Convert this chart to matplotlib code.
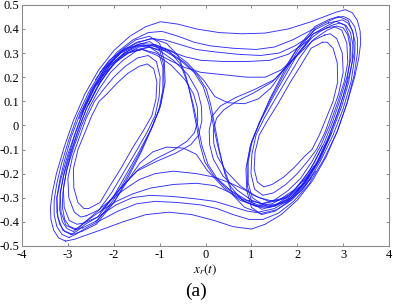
import matplotlib
matplotlib.use("Agg")
import matplotlib.pyplot as plt
import numpy as np

plt.rcParams["font.family"] = ["Liberation Serif", "DejaVu Serif"]
plt.rcParams["mathtext.fontset"] = "stix"
plt.rcParams["axes.unicode_minus"] = False

# trajectory pieces, (x_r, y) pairs
left_ring1 = [(-2.55, -0.345), (-2.30, -0.32), (-2.08, -0.25), (-1.85, -0.18), (-1.58, -0.09),
              (-1.35, -0.02), (-1.17, 0.04), (-1.08, 0.11), (-1.06, 0.18), (-1.13, 0.235),
              (-1.27, 0.255), (-1.45, 0.245), (-1.70, 0.215), (-1.93, 0.175), (-2.15, 0.13),
              (-2.32, 0.10), (-2.48, 0.04), (-2.63, -0.03), (-2.78, -0.10), (-2.88, -0.18),
              (-2.87, -0.26), (-2.78, -0.32), (-2.65, -0.345), (-2.55, -0.345)]
left_ring2 = [(-2.60, -0.375), (-2.32, -0.35), (-2.05, -0.28), (-1.80, -0.20), (-1.52, -0.11),
              (-1.28, -0.03), (-1.10, 0.04), (-1.01, 0.12), (-0.99, 0.20), (-1.07, 0.265),
              (-1.25, 0.29), (-1.48, 0.28), (-1.75, 0.245), (-2.00, 0.20), (-2.22, 0.15),
              (-2.42, 0.10), (-2.60, 0.03), (-2.75, -0.05), (-2.90, -0.13), (-3.00, -0.22),
              (-2.98, -0.30), (-2.86, -0.36), (-2.72, -0.38), (-2.60, -0.375)]
left_ring3 = [(-2.65, -0.405), (-2.35, -0.38), (-2.02, -0.30), (-1.75, -0.21), (-1.45, -0.11),
              (-1.20, -0.02), (-1.02, 0.06), (-0.93, 0.15), (-0.93, 0.24), (-1.02, 0.30),
              (-1.22, 0.325), (-1.50, 0.31), (-1.80, 0.27), (-2.07, 0.22), (-2.32, 0.15),
              (-2.52, 0.08), (-2.70, 0.00), (-2.87, -0.09), (-3.02, -0.18), (-3.10, -0.26),
              (-3.08, -0.34), (-2.97, -0.395), (-2.80, -0.41), (-2.65, -0.405)]
left_ring4 = [(-2.68, -0.425), (-2.36, -0.395), (-2.01, -0.31), (-1.72, -0.215), (-1.42, -0.11),
              (-1.17, -0.01), (-0.99, 0.075), (-0.905, 0.165), (-0.915, 0.255), (-1.01, 0.32),
              (-1.22, 0.348), (-1.51, 0.333), (-1.83, 0.29), (-2.11, 0.23), (-2.37, 0.155),
              (-2.58, 0.075), (-2.76, -0.01), (-2.93, -0.105), (-3.08, -0.20), (-3.17, -0.28),
              (-3.15, -0.36), (-3.04, -0.415), (-2.85, -0.432), (-2.68, -0.425)]
left_ring5 = [(-2.70, -0.44), (-2.38, -0.41), (-2.00, -0.32), (-1.70, -0.22), (-1.40, -0.11),
              (-1.15, 0.00), (-0.97, 0.09), (-0.88, 0.18), (-0.90, 0.27), (-1.00, 0.34),
              (-1.22, 0.37), (-1.52, 0.355), (-1.85, 0.31), (-2.15, 0.24), (-2.42, 0.16),
              (-2.64, 0.07), (-2.82, -0.02), (-3.00, -0.12), (-3.15, -0.22), (-3.24, -0.30),
              (-3.22, -0.38), (-3.11, -0.435), (-2.90, -0.452), (-2.70, -0.44)]

right_ring1 = [(2.55, 0.345), (2.30, 0.32), (2.08, 0.25), (1.85, 0.18), (1.58, 0.09),
               (1.35, 0.02), (1.17, -0.04), (1.08, -0.11), (1.06, -0.18), (1.13, -0.235),
               (1.27, -0.255), (1.45, -0.245), (1.70, -0.215), (1.93, -0.175), (2.15, -0.13),
               (2.32, -0.10), (2.48, -0.04), (2.63, 0.03), (2.78, 0.10), (2.88, 0.18),
               (2.87, 0.26), (2.78, 0.32), (2.65, 0.345), (2.55, 0.345)]
right_ring2 = [(2.60, 0.375), (2.32, 0.35), (2.05, 0.28), (1.80, 0.20), (1.52, 0.11),
               (1.28, 0.03), (1.10, -0.04), (1.01, -0.12), (0.99, -0.20), (1.07, -0.265),
               (1.25, -0.29), (1.48, -0.28), (1.75, -0.245), (2.00, -0.20), (2.22, -0.15),
               (2.42, -0.10), (2.60, -0.03), (2.75, 0.05), (2.90, 0.13), (3.00, 0.22),
               (2.98, 0.30), (2.86, 0.36), (2.72, 0.38), (2.60, 0.375)]
right_ring3 = [(2.65, 0.405), (2.35, 0.38), (2.02, 0.30), (1.75, 0.21), (1.45, 0.11),
               (1.20, 0.02), (1.02, -0.06), (0.93, -0.15), (0.93, -0.24), (1.02, -0.30),
               (1.22, -0.325), (1.50, -0.31), (1.80, -0.27), (2.07, -0.22), (2.32, -0.15),
               (2.52, -0.08), (2.70, 0.00), (2.87, 0.09), (3.02, 0.18), (3.10, 0.26),
               (3.08, 0.34), (2.97, 0.395), (2.80, 0.41), (2.65, 0.405)]
right_ring4 = [(2.68, 0.425), (2.36, 0.395), (2.01, 0.31), (1.72, 0.215), (1.42, 0.11),
               (1.17, 0.01), (0.99, -0.075), (0.905, -0.165), (0.915, -0.255), (1.01, -0.32),
               (1.22, -0.348), (1.51, -0.333), (1.83, -0.29), (2.11, -0.23), (2.37, -0.155),
               (2.58, -0.075), (2.76, 0.01), (2.93, 0.105), (3.08, 0.20), (3.17, 0.28),
               (3.15, 0.36), (3.04, 0.415), (2.85, 0.432), (2.68, 0.425)]
right_ring5 = [(2.70, 0.44), (2.38, 0.41), (2.00, 0.32), (1.70, 0.22), (1.40, 0.11),
               (1.15, 0.00), (0.97, -0.09), (0.88, -0.18), (0.90, -0.27), (1.00, -0.34),
               (1.22, -0.37), (1.52, -0.355), (1.85, -0.31), (2.15, -0.24), (2.42, -0.16),
               (2.64, -0.07), (2.82, 0.02), (3.00, 0.12), (3.15, 0.22), (3.24, 0.30),
               (3.22, 0.38), (3.11, 0.435), (2.90, 0.452), (2.70, 0.44)]

# loops that cross over from one scroll to the other
cross1 = [(-3.05, -0.48), (-3.20, -0.467), (-3.31, -0.435), (-3.37, -0.39), (-3.38, -0.34),
          (-3.34, -0.28), (-3.25, -0.20), (-3.08, -0.09), (-2.88, 0.02), (-2.63, 0.13),
          (-2.33, 0.23), (-2.00, 0.31), (-1.65, 0.37), (-1.30, 0.41), (-0.98, 0.43),
          (-0.60, 0.42), (-0.20, 0.40), (0.30, 0.385), (0.80, 0.38), (1.30, 0.383),
          (1.80, 0.40), (2.30, 0.43), (2.60, 0.452), (2.85, 0.470), (3.05, 0.48),
          (3.20, 0.467), (3.31, 0.435), (3.37, 0.39), (3.38, 0.34), (3.34, 0.28),
          (3.25, 0.20), (3.08, 0.09), (2.88, -0.02), (2.63, -0.13), (2.33, -0.23),
          (2.00, -0.31), (1.65, -0.37), (1.30, -0.41), (1.00, -0.43), (0.60, -0.42),
          (0.20, -0.395), (-0.30, -0.37), (-0.80, -0.36), (-1.30, -0.37), (-1.80, -0.40),
          (-2.30, -0.435), (-2.60, -0.455), (-2.85, -0.472), (-3.05, -0.48)]
cross2 = [(-2.98, -0.465), (-3.13, -0.452), (-3.24, -0.42), (-3.30, -0.37), (-3.30, -0.31),
          (-3.24, -0.24), (-3.14, -0.16), (-2.98, -0.06), (-2.79, 0.04), (-2.54, 0.14),
          (-2.24, 0.235), (-1.92, 0.305), (-1.58, 0.355), (-1.25, 0.385), (-0.95, 0.39),
          (-0.60, 0.37), (-0.25, 0.345), (0.10, 0.33), (0.60, 0.32), (1.10, 0.315),
          (1.50, 0.325), (1.90, 0.355), (2.30, 0.395), (2.60, 0.425), (2.83, 0.445),
          (3.00, 0.452), (3.14, 0.44), (3.25, 0.41), (3.31, 0.36), (3.31, 0.30),
          (3.24, 0.21), (3.08, 0.09), (2.86, -0.03), (2.58, -0.14), (2.25, -0.245),
          (1.92, -0.315), (1.58, -0.365), (1.25, -0.39), (0.95, -0.39), (0.60, -0.37),
          (0.25, -0.345), (-0.10, -0.33), (-0.60, -0.32), (-1.10, -0.315), (-1.50, -0.325),
          (-1.90, -0.355), (-2.30, -0.395), (-2.60, -0.425), (-2.83, -0.452), (-2.98, -0.465)]
cross3 = [(-2.93, -0.452), (-3.07, -0.44), (-3.18, -0.41), (-3.24, -0.36), (-3.24, -0.30),
          (-3.18, -0.23), (-3.08, -0.15), (-2.93, -0.05), (-2.73, 0.05), (-2.48, 0.15),
          (-2.18, 0.24), (-1.86, 0.30), (-1.52, 0.34), (-1.20, 0.36), (-0.90, 0.355),
          (-0.55, 0.335), (-0.20, 0.315), (0.20, 0.305), (0.70, 0.295), (1.20, 0.29),
          (1.60, 0.30), (1.95, 0.33), (2.35, 0.38), (2.62, 0.41), (2.82, 0.43),
          (2.98, 0.438), (3.10, 0.425), (3.20, 0.395), (3.26, 0.345), (3.25, 0.28),
          (3.17, 0.18), (3.00, 0.07), (2.78, -0.04), (2.50, -0.15), (2.20, -0.245),
          (1.88, -0.31), (1.55, -0.35), (1.22, -0.365), (0.90, -0.355), (0.55, -0.335),
          (0.20, -0.315), (-0.20, -0.305), (-0.70, -0.295), (-1.20, -0.29), (-1.60, -0.30),
          (-1.95, -0.33), (-2.35, -0.38), (-2.62, -0.41), (-2.80, -0.438), (-2.93, -0.452)]
cross4 = [(-2.88, -0.44), (-3.02, -0.428), (-3.12, -0.40), (-3.18, -0.35), (-3.17, -0.29),
          (-3.10, -0.21), (-2.99, -0.13), (-2.85, -0.04), (-2.66, 0.06), (-2.40, 0.16),
          (-2.10, 0.245), (-1.78, 0.30), (-1.45, 0.33), (-1.12, 0.33), (-0.80, 0.31),
          (-0.45, 0.285), (-0.10, 0.27), (0.40, 0.265), (0.90, 0.265), (1.40, 0.27),
          (1.80, 0.295), (2.15, 0.34), (2.50, 0.39), (2.75, 0.415), (2.93, 0.425),
          (3.06, 0.415), (3.16, 0.385), (3.21, 0.335), (3.20, 0.27), (3.12, 0.18),
          (2.97, 0.08), (2.75, -0.03), (2.48, -0.14), (2.18, -0.235), (1.85, -0.30),
          (1.52, -0.335), (1.20, -0.34), (0.90, -0.32), (0.55, -0.28), (0.20, -0.25),
          (-0.20, -0.24), (-0.70, -0.245), (-1.20, -0.26), (-1.60, -0.285), (-2.00, -0.32),
          (-2.40, -0.37), (-2.65, -0.405), (-2.78, -0.428), (-2.88, -0.44)]
cross5 = [(-2.83, -0.43), (-2.97, -0.418), (-3.07, -0.39), (-3.12, -0.34), (-3.11, -0.28),
          (-3.04, -0.20), (-2.94, -0.12), (-2.79, -0.03), (-2.60, 0.07), (-2.33, 0.17),
          (-2.03, 0.25), (-1.70, 0.30), (-1.38, 0.315), (-1.08, 0.30), (-0.78, 0.27),
          (-0.45, 0.24), (-0.10, 0.22), (0.40, 0.21), (0.90, 0.20), (1.30, 0.20),
          (1.65, 0.23), (2.00, 0.29), (2.38, 0.36), (2.65, 0.395), (2.86, 0.412),
          (3.00, 0.405), (3.10, 0.375), (3.15, 0.325), (3.14, 0.26), (3.07, 0.17),
          (2.92, 0.07), (2.70, -0.04), (2.43, -0.15), (2.12, -0.245), (1.80, -0.30),
          (1.48, -0.315), (1.17, -0.30), (0.88, -0.27), (0.55, -0.24), (0.20, -0.215),
          (-0.20, -0.20), (-0.70, -0.19), (-1.10, -0.20), (-1.45, -0.225), (-1.80, -0.27),
          (-2.20, -0.33), (-2.50, -0.38), (-2.70, -0.412), (-2.83, -0.43)]

# strands through the waist in the middle
waist1 = [(-2.30, 0.22), (-1.90, 0.30), (-1.50, 0.345), (-1.15, 0.36), (-0.85, 0.34),
          (-0.60, 0.29), (-0.42, 0.20), (-0.30, 0.10), (-0.20, 0.00), (-0.12, -0.08),
          (-0.02, -0.15), (0.18, -0.21), (0.45, -0.26), (0.80, -0.305), (1.15, -0.33),
          (1.50, -0.33), (1.85, -0.30), (2.20, -0.235), (2.50, -0.14), (2.75, -0.03)]
waist2 = [(-2.25, 0.205), (-1.85, 0.285), (-1.45, 0.325), (-1.10, 0.335), (-0.80, 0.31),
          (-0.55, 0.255), (-0.38, 0.17), (-0.26, 0.08), (-0.16, -0.01), (-0.07, -0.09),
          (0.05, -0.16), (0.25, -0.22), (0.55, -0.27), (0.90, -0.31), (1.25, -0.325),
          (1.60, -0.31), (1.95, -0.265), (2.28, -0.185), (2.55, -0.085)]
waist3 = [(2.30, -0.22), (1.90, -0.30), (1.50, -0.345), (1.15, -0.36), (0.85, -0.34),
          (0.60, -0.29), (0.42, -0.20), (0.30, -0.10), (0.20, 0.00), (0.12, 0.08),
          (0.02, 0.15), (-0.18, 0.21), (-0.45, 0.26), (-0.80, 0.305), (-1.15, 0.33),
          (-1.50, 0.33), (-1.85, 0.30), (-2.20, 0.235), (-2.50, 0.14), (-2.75, 0.03)]
waist4 = [(2.25, -0.205), (1.85, -0.285), (1.45, -0.325), (1.10, -0.335), (0.80, -0.31),
          (0.55, -0.255), (0.38, -0.17), (0.26, -0.08), (0.16, 0.01), (0.07, 0.09),
          (-0.05, 0.16), (-0.25, 0.22), (-0.55, 0.27), (-0.90, 0.31), (-1.25, 0.325),
          (-1.60, 0.31), (-1.95, 0.265), (-2.28, 0.185), (-2.55, 0.085)]

# loops that bulge towards the middle and turn back
bulge_left1 = [(-2.30, -0.36), (-1.90, -0.27), (-1.50, -0.19), (-1.08, -0.15), (-0.65, -0.115),
               (-0.32, -0.08), (-0.15, -0.04), (-0.08, 0.02), (-0.09, 0.08), (-0.17, 0.14),
               (-0.38, 0.21), (-0.70, 0.27), (-1.00, 0.31), (-1.35, 0.335), (-1.75, 0.32),
               (-2.10, 0.27), (-2.40, 0.19)]
bulge_left2 = [(-2.25, -0.35), (-1.85, -0.26), (-1.45, -0.18), (-1.05, -0.135), (-0.68, -0.10),
               (-0.40, -0.065), (-0.24, -0.03), (-0.17, 0.02), (-0.18, 0.075), (-0.26, 0.13),
               (-0.45, 0.19), (-0.75, 0.25), (-1.05, 0.29), (-1.38, 0.315), (-1.75, 0.30),
               (-2.08, 0.25), (-2.36, 0.17)]
bulge_right1 = [(2.30, 0.36), (1.90, 0.27), (1.50, 0.19), (1.08, 0.15), (0.65, 0.115),
                (0.32, 0.08), (0.15, 0.04), (0.08, -0.02), (0.09, -0.08), (0.17, -0.14),
                (0.38, -0.21), (0.70, -0.27), (1.00, -0.31), (1.35, -0.335), (1.75, -0.32),
                (2.10, -0.27), (2.40, -0.19)]
bulge_right2 = [(2.25, 0.35), (1.85, 0.26), (1.45, 0.18), (1.05, 0.135), (0.68, 0.10),
                (0.40, 0.065), (0.24, 0.03), (0.17, -0.02), (0.18, -0.075), (0.26, -0.13),
                (0.45, -0.19), (0.75, -0.25), (1.05, -0.29), (1.38, -0.315), (1.75, -0.30),
                (2.08, -0.25), (2.36, -0.17)]
hump1 = [(-2.40, -0.40), (-2.00, -0.32), (-1.70, -0.23), (-1.43, -0.156), (-1.15, -0.11),
         (-0.85, -0.09), (-0.49, -0.094), (-0.20, -0.12), (0.03, -0.185), (0.40, -0.26),
         (0.75, -0.31), (1.10, -0.335), (1.41, -0.34), (1.80, -0.31), (2.15, -0.24),
         (2.45, -0.15), (2.70, -0.05)]
hump2 = [(2.40, 0.40), (2.00, 0.32), (1.70, 0.23), (1.43, 0.156), (1.15, 0.11),
         (0.85, 0.09), (0.49, 0.094), (0.20, 0.12), (-0.03, 0.185), (-0.40, 0.26),
         (-0.75, 0.31), (-1.10, 0.335), (-1.41, 0.34), (-1.80, 0.31), (-2.15, 0.24),
         (-2.45, 0.15), (-2.70, 0.05)]

pieces = [left_ring1, left_ring2, left_ring3, left_ring4, left_ring5,
          right_ring1, right_ring2, right_ring3, right_ring4, right_ring5,
          cross1, cross2, cross3, cross4, cross5,
          waist1, waist2, waist3, waist4,
          bulge_left1, bulge_left2, bulge_right1, bulge_right2, hump1, hump2]

fig = plt.figure(figsize=(3.93, 3.04), dpi=100)
ax = fig.add_axes([0.056, 0.191, 0.934, 0.793])

for p in pieces:
    p = np.array(p)
    ax.plot(p[:, 0], p[:, 1], color="#1818ff", lw=0.65, alpha=0.9)

ax.set_xlim(-4, 4)
ax.set_ylim(-0.5, 0.5)
ax.set_xticks(np.arange(-4, 5, 1))
ax.set_yticks(np.round(np.arange(-0.5, 0.51, 0.1), 1))
ax.set_yticklabels(["-0.5", "-0.4", "-0.3", "-0.2", "-0.1", "0",
                    "0.1", "0.2", "0.3", "0.4", "0.5"])
ax.tick_params(direction="in", length=2.5, width=0.6, color="0.45",
               top=True, right=True, labelsize=9, pad=2)
for s in ax.spines.values():
    s.set_color("0.55")
    s.set_linewidth(0.8)

ax.set_xlabel("$x_r(t)$", fontsize=9.5, labelpad=1)
fig.text(0.50, 0.04, "(a)", ha="center", va="center", fontsize=14)

fig.savefig("out.png", dpi=100)
